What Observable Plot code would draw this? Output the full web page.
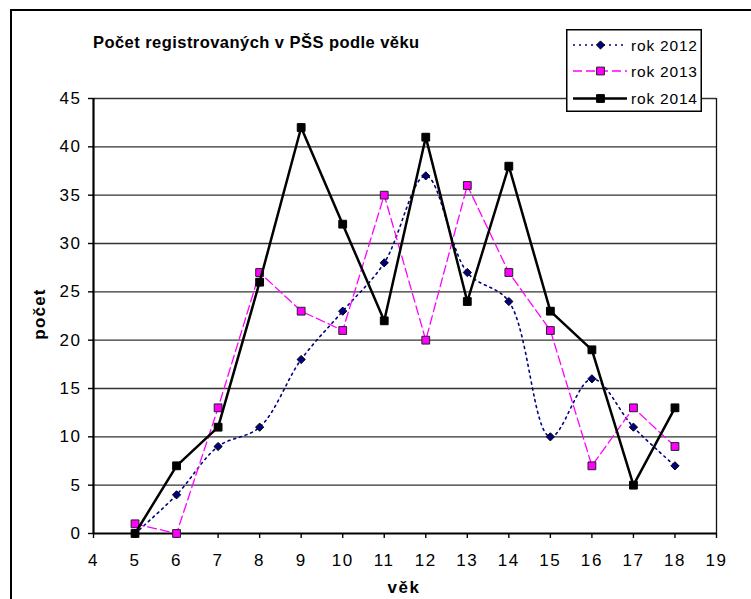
<!DOCTYPE html>
<html><head><meta charset="utf-8">
<script src="https://cdn.jsdelivr.net/npm/d3@7"></script>
<script src="https://cdn.jsdelivr.net/npm/@observablehq/plot@0.6"></script>
<style>
body{margin:0;background:#fff;}
#wrap{position:relative;width:751px;height:599px;overflow:hidden;font-family:"Liberation Sans",Arial,sans-serif;background:#fff;}
#border{position:absolute;left:10px;top:9px;width:900px;height:800px;border-left:2px solid #000;border-top:2px solid #000;}
#chart{position:absolute;left:0;top:0;}
#chart text{letter-spacing:1.6px;}
#title{position:absolute;left:93px;top:33px;font-weight:bold;font-size:16.5px;letter-spacing:0.45px;white-space:nowrap;}
#ylab{position:absolute;left:40px;top:314px;font-weight:bold;font-size:17px;letter-spacing:1.2px;transform:translate(-50%,-50%) rotate(-90deg);white-space:nowrap;}
#xlab{position:absolute;left:404px;top:578px;font-weight:bold;font-size:17px;letter-spacing:1.6px;transform:translateX(-50%);white-space:nowrap;}
#legend{position:absolute;left:566px;top:29px;}
</style></head>
<body>
<div id="wrap">
  <div id="border"></div>
  <div id="chart"></div>
  <div id="title">Počet registrovaných v PŠS podle věku</div>
  <div id="ylab">počet</div>
  <div id="xlab">věk</div>
  <div id="legend"></div>
</div>
<script>
const ages = [5, 6, 7, 8, 9, 10, 11, 12, 13, 14, 15, 16, 17, 18];
const rok2012 = [0, 4, 9, 11, 18, 23, 28, 37, 27, 24, 10, 16, 11, 7];
const rok2013 = [1, 0, 13, 27, 23, 21, 35, 20, 36, 27, 21, 7, 13, 9];
const rok2014 = [0, 7, 11, 26, 42, 32, 22, 41, 24, 38, 23, 19, 5, 13];
const seriesNames = ["rok 2012", "rok 2013", "rok 2014"];
const xTicks = [4, 5, 6, 7, 8, 9, 10, 11, 12, 13, 14, 15, 16, 17, 18, 19];
const yTicks = [0, 5, 10, 15, 20, 25, 30, 35, 40, 45];

const styles = [
  {stroke: "#000080", strokeWidth: 1.6, dash: "2,4", curve: "catmull-rom", symbol: "diamond2", fill: "#000080", dotStroke: "#000", r: 3.7},
  {stroke: "#ff00ff", strokeWidth: 1.3, dash: "9,4", curve: "linear", symbol: "square", fill: "#ff00ff", dotStroke: "#222", r: 4.4},
  {stroke: "#000000", strokeWidth: 2.5, dash: null, curve: "linear", symbol: "square", fill: "#000", dotStroke: "#000", r: 4.4}
];
const seriesValues = [rok2012, rok2013, rok2014];
const data = seriesValues.map((vals, s) => ages.map((a, i) => ({age: a, v: vals[i], s: seriesNames[s]})));

const seriesMarks = data.flatMap((d, s) => {
  const st = styles[s];
  return [
    Plot.line(d, {x: "age", y: "v", stroke: st.stroke, strokeWidth: st.strokeWidth, strokeDasharray: st.dash, curve: st.curve}),
    Plot.dot(d, {x: "age", y: "v", symbol: st.symbol, fill: st.fill, stroke: st.dotStroke, strokeWidth: 1, r: st.r})
  ];
});

const chart = Plot.plot({
  width: 751, height: 599,
  marginLeft: 93, marginRight: 35, marginTop: 98, marginBottom: 66,
  x: {domain: [4, 19]},
  y: {domain: [0, 45]},
  style: {fontFamily: "'Liberation Sans', Arial, sans-serif", fontSize: "17px", background: "transparent", color: "#000"},
  marks: [
    Plot.ruleY(yTicks.filter(t => t > 0), {stroke: "#333", strokeWidth: 1.3}),
    Plot.ruleX([19], {stroke: "#111", strokeWidth: 1.3}),
    Plot.axisY({ticks: yTicks, tickSize: 5, tickPadding: 7, label: null, strokeWidth: 1.4}),
    Plot.axisX({ticks: xTicks, tickSize: 5, tickPadding: 15, label: null, strokeWidth: 1.4}),
    Plot.ruleX([4], {stroke: "#000", strokeWidth: 2.2}),
    Plot.ruleY([0], {stroke: "#000", strokeWidth: 2.2}),
    ...seriesMarks
  ]
});
document.getElementById("chart").appendChild(chart);

// legend
const lw = 136, lh = 83;
const leg = d3.select("#legend").append("svg").attr("width", lw).attr("height", lh);
leg.append("rect").attr("x", 0.75).attr("y", 0.75).attr("width", lw - 1.5).attr("height", lh - 1.5)
  .attr("fill", "#fff").attr("stroke", "#000").attr("stroke-width", 1.5);
const rowsY = [16, 42, 69.5];
const symGen = (st) => d3.symbol(st.symbol === "diamond2" ? d3.symbolDiamond2 : d3.symbolSquare, Math.PI * st.r * st.r)();
seriesNames.forEach((name, i) => {
  const st = styles[i];
  const g = leg.append("g").attr("transform", `translate(0,${rowsY[i]})`);
  g.append("line").attr("x1", 7).attr("x2", 61).attr("y1", 0).attr("y2", 0)
    .attr("stroke", st.stroke).attr("stroke-width", st.strokeWidth).attr("stroke-dasharray", st.dash);
  g.append("path").attr("d", symGen(st)).attr("transform", "translate(34.5,0)")
    .attr("fill", st.fill).attr("stroke", st.dotStroke).attr("stroke-width", 1);
  g.append("text").attr("x", 65).attr("y", 5.5).text(name)
    .attr("font-family", "'Liberation Sans', Arial, sans-serif").attr("font-size", 15.5).attr("letter-spacing", 0.8);
});
</script>
</body></html>
